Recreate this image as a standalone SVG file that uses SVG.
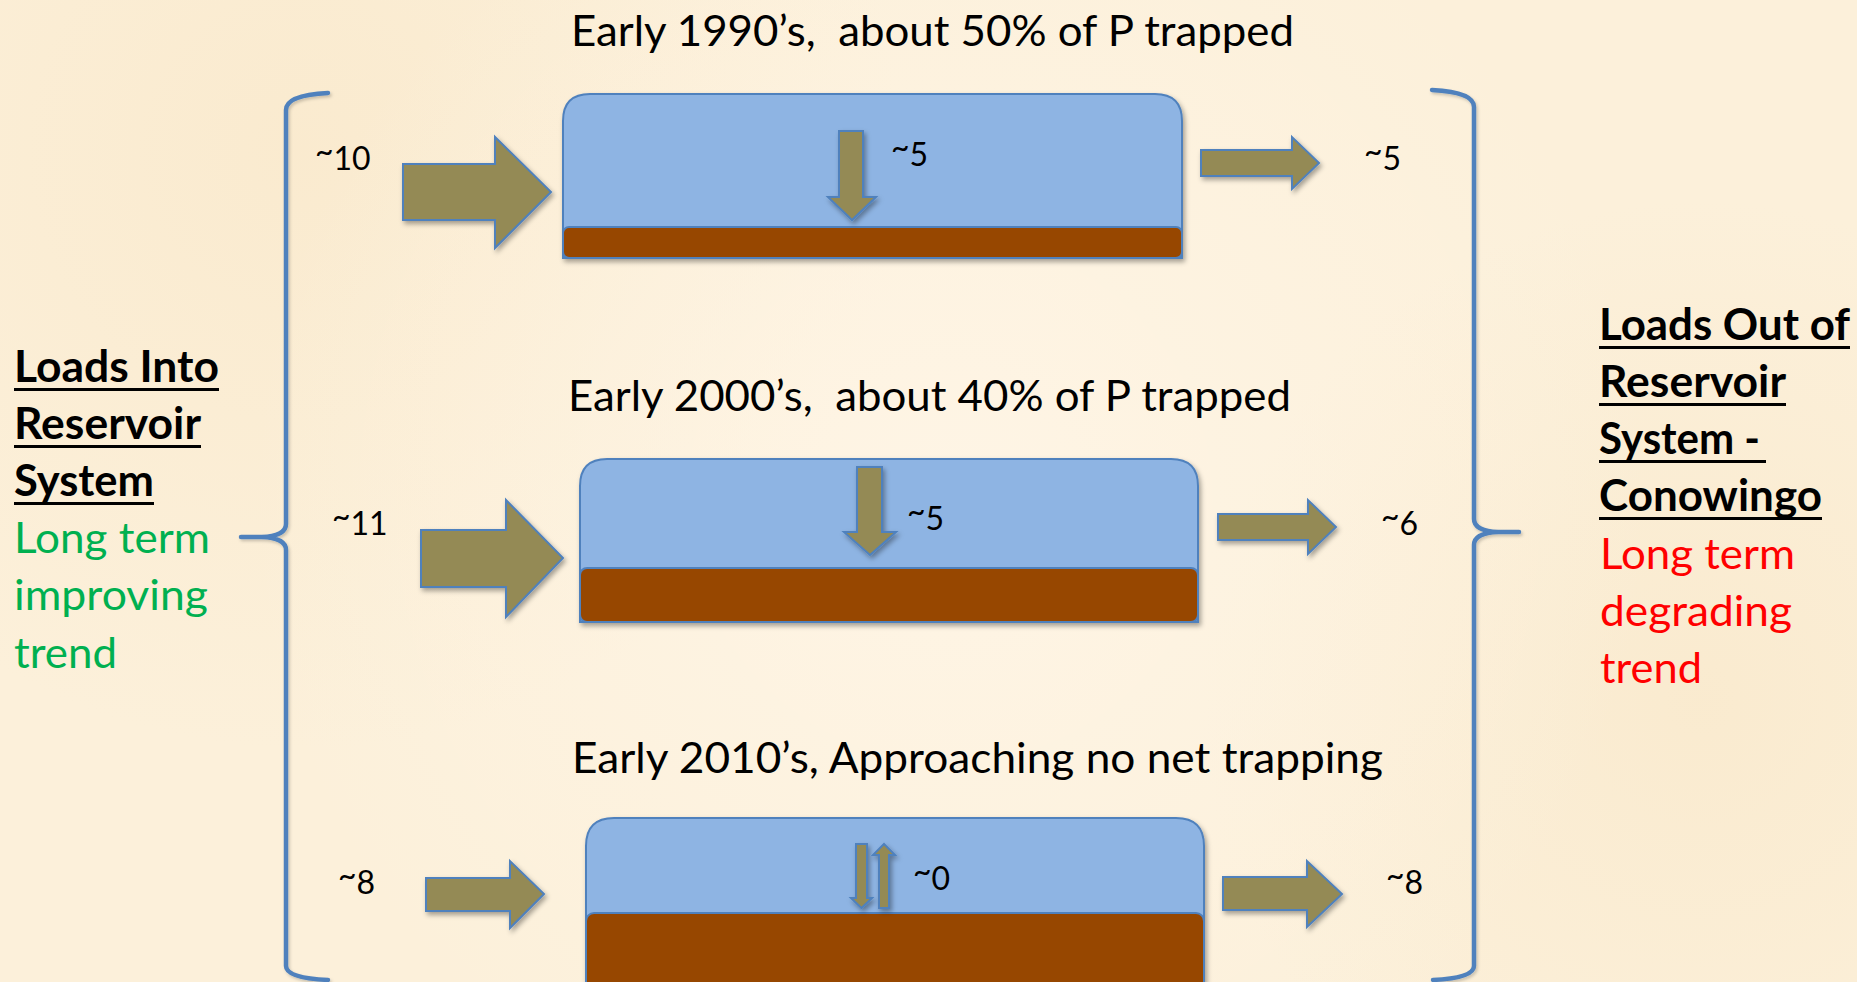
<svg xmlns="http://www.w3.org/2000/svg" width="1857" height="982" viewBox="0 0 1857 982">
  <defs>
    <radialGradient id="bgWarmA" cx="300" cy="150" r="600" gradientUnits="userSpaceOnUse">
      <stop offset="0" stop-color="#F8E5C4" stop-opacity="0.5"/>
      <stop offset="1" stop-color="#F8E5C4" stop-opacity="0"/>
    </radialGradient>
    <radialGradient id="bgWarmB" cx="1700" cy="700" r="500" gradientUnits="userSpaceOnUse">
      <stop offset="0" stop-color="#F7E4C2" stop-opacity="0.45"/>
      <stop offset="1" stop-color="#F7E4C2" stop-opacity="0"/>
    </radialGradient>
    <radialGradient id="bgLight" cx="950" cy="500" r="700" gradientUnits="userSpaceOnUse">
      <stop offset="0" stop-color="#FFF6E8" stop-opacity="0.8"/>
      <stop offset="1" stop-color="#FFF6E8" stop-opacity="0"/>
    </radialGradient>
    <filter id="shadow" x="-10%" y="-10%" width="130%" height="140%">
      <feDropShadow dx="2" dy="3" stdDeviation="2.5" flood-color="#000" flood-opacity="0.35"/>
    </filter>
    <filter id="softShadow" x="-20%" y="-5%" width="160%" height="110%">
      <feDropShadow dx="1.5" dy="2" stdDeviation="1.5" flood-color="#000" flood-opacity="0.2"/>
    </filter>
  </defs>
  <style>
    .title { font-family: Lato, "Open Sans", "Liberation Sans", sans-serif; font-size: 43px; fill: #000; white-space: pre; }
    .num { font-family: Lato, "Open Sans", "Liberation Sans", sans-serif; font-size: 32px; fill: #000; }
    .head { font-family: Lato, "Open Sans", "Liberation Sans", sans-serif; font-size: 43px; font-weight: bold; fill: #000; }
    .good { font-family: Lato, "Open Sans", "Liberation Sans", sans-serif; font-size: 43px; fill: #00B050; }
    .bad { font-family: Lato, "Open Sans", "Liberation Sans", sans-serif; font-size: 43px; fill: #FF0000; }
    .uline { fill: #000; }
    .water { fill: #8EB4E3; stroke: #4F81BD; stroke-width: 2; }
    .sediment { fill: #974706; stroke: #4F81BD; stroke-width: 2; }
    .flow { fill: #948A54; stroke: #4F81BD; stroke-width: 2; stroke-linejoin: miter; }
    .brace { fill: none; stroke: #4F81BD; stroke-width: 4.5; stroke-linecap: round; stroke-linejoin: round; }
  </style>

  <!-- parchment background -->
  <g id="background">
    <rect x="0" y="0" width="1857" height="982" fill="#FCF0DA"/>
    <rect x="0" y="0" width="1857" height="982" fill="url(#bgWarmA)"/>
    <rect x="0" y="0" width="1857" height="982" fill="url(#bgWarmB)"/>
    <rect x="0" y="0" width="1857" height="982" fill="url(#bgLight)"/>
  </g>

  <!-- period headings -->
  <g id="titles">
    <text class="title" x="571" y="46" textLength="723" lengthAdjust="spacingAndGlyphs" xml:space="preserve">Early 1990’s,  about 50% of P trapped</text>
    <text class="title" x="568" y="411" textLength="723" lengthAdjust="spacingAndGlyphs" xml:space="preserve">Early 2000’s,  about 40% of P trapped</text>
    <text class="title" x="572" y="773" textLength="811" lengthAdjust="spacingAndGlyphs">Early 2010’s, Approaching no net trapping</text>
  </g>

  <!-- reservoirs: water body with sediment layer -->
  <g id="reservoir-1990s" filter="url(#shadow)">
    <path class="water" d="M563,258 L563,121 Q563,94 590,94 L1155,94 Q1182,94 1182,121 L1182,258 Z"/>
    <rect class="sediment" x="563" y="227" width="619" height="31" rx="6"/>
  </g>
  <g id="reservoir-2000s" filter="url(#shadow)">
    <path class="water" d="M580,622 L580,486 Q580,459 607,459 L1171,459 Q1198,459 1198,486 L1198,622 Z"/>
    <rect class="sediment" x="580" y="568" width="618" height="54" rx="7"/>
  </g>
  <g id="reservoir-2010s" filter="url(#shadow)">
    <path class="water" d="M586,990 L586,846 Q586,818 614,818 L1176,818 Q1204,818 1204,846 L1204,990 Z"/>
    <rect class="sediment" x="586" y="913" width="618" height="80" rx="8"/>
  </g>

  <!-- load arrows -->
  <g id="connectors" filter="url(#shadow)">
    <!-- inflow -->
    <polygon class="flow" points="403,164 495,164 495,137 551,192 495,248 495,220 403,220"/>
    <polygon class="flow" points="421,530 506,530 506,500 563,558 506,617 506,587 421,587"/>
    <polygon class="flow" points="426,878 510,878 510,861 544,894 510,928 510,911 426,911"/>
    <!-- trapping -->
    <polygon class="flow" points="839,131 863,131 863,197 876,197 852,220 828,197 839,197"/>
    <polygon class="flow" points="857,467 882,467 882,532 896,532 870,555 844,532 857,532"/>
    <polygon class="flow" points="856,844 867,844 867,898 872,898 861.5,908 851,898 856,898"/>
    <polygon class="flow" points="879,908 889,908 889,855 895,855 884,844 873,855 879,855"/>
    <!-- outflow -->
    <polygon class="flow" points="1201,150 1292,150 1292,137 1319,163 1292,189 1292,176 1201,176"/>
    <polygon class="flow" points="1218,514 1308,514 1308,500 1336,527 1308,554 1308,540 1218,540"/>
    <polygon class="flow" points="1223,877 1307,877 1307,861 1342,894 1307,927 1307,910 1223,910"/>
  </g>

  <!-- load values (tilde raised as in the slide font) -->
  <g id="values">
    <text class="num" x="315" y="170"><tspan dy="-7">~</tspan><tspan dy="7">10</tspan></text>
    <text class="num" x="332" y="535"><tspan dy="-7">~</tspan><tspan dy="7">11</tspan></text>
    <text class="num" x="338" y="894"><tspan dy="-7">~</tspan><tspan dy="7">8</tspan></text>
    <text class="num" x="891" y="166"><tspan dy="-7">~</tspan><tspan dy="7">5</tspan></text>
    <text class="num" x="907" y="530"><tspan dy="-7">~</tspan><tspan dy="7">5</tspan></text>
    <text class="num" x="913" y="890"><tspan dy="-7">~</tspan><tspan dy="7">0</tspan></text>
    <text class="num" x="1364" y="170"><tspan dy="-7">~</tspan><tspan dy="7">5</tspan></text>
    <text class="num" x="1381" y="535"><tspan dy="-7">~</tspan><tspan dy="7">6</tspan></text>
    <text class="num" x="1386" y="894"><tspan dy="-7">~</tspan><tspan dy="7">8</tspan></text>
  </g>

  <!-- braces -->
  <g id="brace-in" filter="url(#softShadow)">
    <path class="brace" d="M328,93 Q286,95 286,110 L286,524 Q286,536 262,537 L241,537 M262,537 Q286,538 286,550 L286,966 Q286,978 328,980"/>
  </g>
  <g id="brace-out" filter="url(#softShadow)">
    <path class="brace" d="M1432,90 Q1474,92 1474,107 L1474,519 Q1474,531 1498,532 L1519,532 M1498,532 Q1474,533 1474,545 L1474,966 Q1474,978 1433,980"/>
  </g>

  <!-- side captions -->
  <g id="label-in">
    <text class="head" x="14" y="382" textLength="205" lengthAdjust="spacingAndGlyphs">Loads Into</text>
    <rect class="uline" x="14" y="388" width="205" height="3"/>
    <text class="head" x="14" y="439" textLength="187" lengthAdjust="spacingAndGlyphs">Reservoir</text>
    <rect class="uline" x="14" y="445" width="187" height="3"/>
    <text class="head" x="14" y="496" textLength="140" lengthAdjust="spacingAndGlyphs">System</text>
    <rect class="uline" x="14" y="502" width="140" height="3"/>
    <text class="good" x="14" y="553" textLength="196" lengthAdjust="spacingAndGlyphs">Long term</text>
    <text class="good" x="14" y="610" textLength="194" lengthAdjust="spacingAndGlyphs">improving</text>
    <text class="good" x="14" y="668" textLength="103" lengthAdjust="spacingAndGlyphs">trend</text>
  </g>
  <g id="label-out">
    <text class="head" x="1599" y="340" textLength="251" lengthAdjust="spacingAndGlyphs">Loads Out of</text>
    <rect class="uline" x="1599" y="346" width="251" height="3"/>
    <text class="head" x="1599" y="397" textLength="187" lengthAdjust="spacingAndGlyphs">Reservoir</text>
    <rect class="uline" x="1599" y="403" width="187" height="3"/>
    <text class="head" x="1599" y="454" textLength="161" lengthAdjust="spacingAndGlyphs">System -</text>
    <rect class="uline" x="1599" y="460" width="167" height="3"/>
    <text class="head" x="1599" y="511" textLength="223" lengthAdjust="spacingAndGlyphs">Conowingo</text>
    <rect class="uline" x="1599" y="517" width="223" height="3"/>
    <text class="bad" x="1600" y="569" textLength="195" lengthAdjust="spacingAndGlyphs">Long term</text>
    <text class="bad" x="1600" y="626" textLength="192" lengthAdjust="spacingAndGlyphs">degrading</text>
    <text class="bad" x="1600" y="683" textLength="102" lengthAdjust="spacingAndGlyphs">trend</text>
  </g>
</svg>
